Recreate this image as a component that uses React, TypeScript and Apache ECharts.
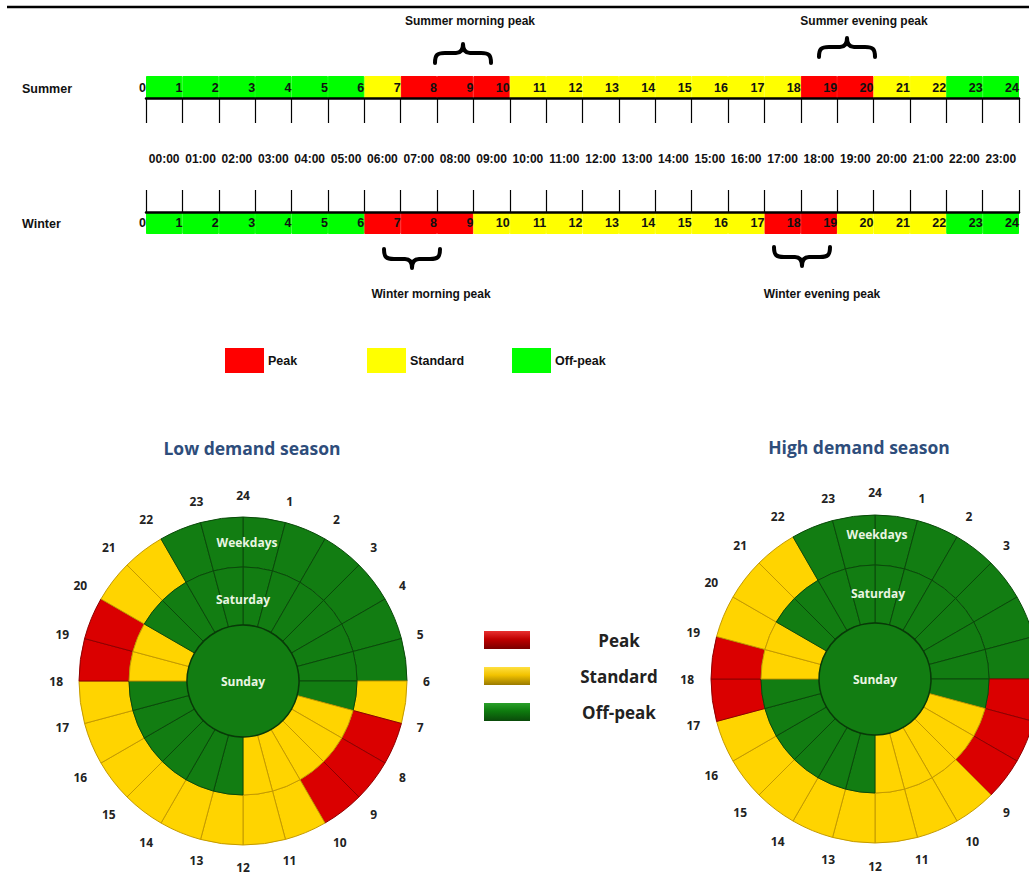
import React, { useEffect, useRef } from 'react';
import * as echarts from 'echarts';

const P = 'Peak';
const S = 'Standard';
const O = 'Off-peak';
const tariffs = [P, S, O];

const hourLabels = ['00:00', '01:00', '02:00', '03:00', '04:00', '05:00', '06:00', '07:00', '08:00', '09:00', '10:00', '11:00', '12:00', '13:00', '14:00', '15:00', '16:00', '17:00', '18:00', '19:00', '20:00', '21:00', '22:00', '23:00'];
const boundaryLabels = ['0', '1', '2', '3', '4', '5', '6', '7', '8', '9', '10', '11', '12', '13', '14', '15', '16', '17', '18', '19', '20', '21', '22', '23', '24'];
const ringHourLabels = ['24', '1', '2', '3', '4', '5', '6', '7', '8', '9', '10', '11', '12', '13', '14', '15', '16', '17', '18', '19', '20', '21', '22', '23'];
// hour labels of the high demand wheel that fall outside the picture's right edge
const highHiddenLabels = ['4', '5', '6', '7', '8'];

// hour-by-hour tariff (hour i covers i:00 - i+1:00)
const summerWeekday = [O, O, O, O, O, O, S, P, P, P, S, S, S, S, S, S, S, S, P, P, S, S, O, O];
const winterWeekday = [O, O, O, O, O, O, P, P, P, S, S, S, S, S, S, S, S, P, P, S, S, S, O, O];
const saturdaySchedule = [O, O, O, O, O, O, O, S, S, S, S, S, O, O, O, O, O, O, S, S, O, O, O, O];
const sundaySchedule = [O];

const flatColors: Record<string, string> = { Peak: '#FF0000', Standard: '#FFFF00', 'Off-peak': '#00FF00' };
const ringColors: Record<string, string> = { Peak: '#DA0000', Standard: '#FFD400', 'Off-peak': '#127D12' };
const ringBorders: Record<string, string> = { Peak: '#8E0000', Standard: '#C49A00', 'Off-peak': '#0A4A0A' };

const FN = '"Liberation Sans", Arial, sans-serif';
const FS = '"Open Sans", "Noto Sans", sans-serif';

const BRACE_UP = 'M2 21 C2 13 4 11 12 11 L23 11 C28 11 30 8 30 2 C30 8 32 11 37 11 L48 11 C56 11 58 13 58 21';
const BRACE_DOWN = 'M2 1 C2 9 4 11 12 11 L23 11 C28 11 30 14 30 20 C30 14 32 11 37 11 L48 11 C56 11 58 9 58 1';
echarts.graphic.registerShape('braceUp', echarts.graphic.extendPath(BRACE_UP, {}));
echarts.graphic.registerShape('braceDown', echarts.graphic.extendPath(BRACE_DOWN, {}));

const LOW_C = [243, 681];
const HIGH_C = [875, 679];
const R_IN = 56;
const R_MID = 114;
const R_OUT = 164;

function txt(text: string, x: number, y: number, size: number, opts: any = {}) {
  return {
    type: 'text',
    x,
    y,
    z: 100,
    silent: true,
    style: {
      text,
      fill: opts.color || '#111',
      fontSize: size,
      fontWeight: 'bold',
      fontFamily: opts.family || FN,
      align: opts.align || 'center',
      verticalAlign: 'middle',
      textAlign: opts.align || 'center',
      textVerticalAlign: 'middle',
    },
  };
}

function brace(kind: string, x: number, y: number) {
  return {
    type: kind,
    x,
    y,
    z: 100,
    silent: true,
    style: { fill: 'none', stroke: '#000', lineWidth: 4, lineCap: 'round', lineJoin: 'round' },
  };
}

function ringSeries(name: string, schedule: string[], center: number[], radius: number[]) {
  return {
    type: 'pie',
    name,
    center,
    radius,
    startAngle: 90,
    clockwise: true,
    silent: true,
    avoidLabelOverlap: false,
    label: { show: false },
    labelLine: { show: false },
    emphasis: { disabled: true },
    data: schedule.map((t, i) => ({
      name: `${hourLabels[i]} ${t}`,
      value: 1,
      itemStyle: { color: ringColors[t], borderColor: ringBorders[t], borderWidth: 1 },
    })),
  };
}

function centerSeries(center: number[]) {
  return {
    type: 'pie',
    name: 'Sunday',
    center,
    radius: [0, R_IN],
    silent: true,
    emphasis: { disabled: true },
    label: {
      show: true,
      position: 'center',
      formatter: 'Sunday',
      color: '#EAF5E2',
      fontSize: 12,
      fontWeight: 'bold',
      fontFamily: FS,
    },
    labelLine: { show: false },
    data: sundaySchedule.map((t) => ({
      name: 'Sunday',
      value: 1,
      itemStyle: { color: ringColors[t], borderColor: '#083A08', borderWidth: 1.5 },
    })),
  };
}

function barSeries(schedule: string[], xi: number, yi: number) {
  return tariffs.map((T) => ({
    type: 'bar',
    name: T,
    xAxisIndex: xi,
    yAxisIndex: yi,
    barGap: '-100%',
    barCategoryGap: '0%',
    silent: true,
    itemStyle: { color: flatColors[T], borderColor: flatColors[T], borderWidth: 1 },
    data: schedule.map((t) => (t === T ? 1 : '-')),
  }));
}

const catAxis = (gridIndex: number, position: string, tickLen: number, labelShow: boolean) => ({
  gridIndex,
  type: 'category',
  data: hourLabels,
  position,
  boundaryGap: true,
  z: 8,
  axisLine: { show: true, onZero: false, lineStyle: { color: '#000', width: 2.5 } },
  axisTick: { show: true, interval: 0, length: tickLen, lineStyle: { color: '#000', width: 1.2 } },
  axisLabel: {
    show: labelShow,
    interval: 0,
    margin: 47,
    color: '#111',
    fontSize: 12,
    fontWeight: 'bold',
    fontFamily: FN,
  },
  splitLine: { show: false },
});

const numAxis = (gridIndex: number, position: string, margin: number) => ({
  gridIndex,
  type: 'value',
  min: 0,
  max: 24,
  interval: 1,
  position,
  z: 10,
  axisLine: { show: false, onZero: false },
  axisTick: { show: false },
  splitLine: { show: false },
  axisLabel: {
    inside: true,
    align: 'right',
    margin,
    showMinLabel: true,
    showMaxLabel: true,
    formatter: (v: number) => boundaryLabels[v],
    color: '#111',
    fontSize: 12.5,
    fontWeight: 'bold',
    fontFamily: FN,
  },
});

const angleAx = (polarIndex: number, margin: number, hidden: string[]) => ({
  polarIndex,
  type: 'value',
  min: 0,
  max: 24,
  interval: 1,
  startAngle: 90,
  clockwise: true,
  axisLine: { show: false },
  axisTick: { show: false },
  splitLine: { show: false },
  splitArea: { show: false },
  axisLabel: {
    margin,
    formatter: (v: number) => {
      const s = ringHourLabels[v % 24];
      return hidden.indexOf(s) >= 0 ? '' : s;
    },
    color: '#222',
    fontSize: 12,
    fontWeight: 'bold',
    fontFamily: FS,
  },
});

const radiusAx = (polarIndex: number) => ({
  polarIndex,
  type: 'value',
  axisLine: { show: false },
  axisTick: { show: false },
  axisLabel: { show: false },
  splitLine: { show: false },
  splitArea: { show: false },
});

const grad = (a: string, b: string, c: string) =>
  new echarts.graphic.LinearGradient(0, 0, 0, 1, [
    { offset: 0, color: a },
    { offset: 0.45, color: b },
    { offset: 1, color: c },
  ]);

const topLegend = (name: string, left: number) => ({
  left,
  top: 348,
  padding: 0,
  icon: 'rect',
  itemWidth: 37,
  itemHeight: 23,
  selectedMode: false,
  data: [name],
  textStyle: { fontSize: 12.5, fontWeight: 'bold', fontFamily: FN, color: '#111' },
});

const option: any = {
  animation: false,
  backgroundColor: '#fff',
  grid: [
    { left: 146, right: 10, top: 76, height: 22, containLabel: false },
    { left: 146, right: 10, top: 212, height: 22, containLabel: false },
  ],
  xAxis: [
    catAxis(0, 'bottom', 25, false),
    numAxis(0, 'bottom', 4),
    catAxis(1, 'top', 22, true),
    numAxis(1, 'top', 4),
  ],
  yAxis: [
    { gridIndex: 0, type: 'value', min: 0, max: 1, show: false },
    { gridIndex: 1, type: 'value', min: 0, max: 1, show: false },
  ],
  polar: [
    { center: LOW_C, radius: R_OUT },
    { center: HIGH_C, radius: R_OUT },
  ],
  angleAxis: [angleAx(0, 16, []), angleAx(1, 17, highHiddenLabels)],
  radiusAxis: [radiusAx(0), radiusAx(1)],
  legend: [
    topLegend(P, 225),
    topLegend(S, 367),
    topLegend(O, 512),
    {
      orient: 'vertical',
      left: 484,
      top: 631,
      padding: 0,
      icon: 'rect',
      itemWidth: 46,
      itemHeight: 18,
      itemGap: 18,
      selectedMode: false,
      data: [
        { name: P, itemStyle: { color: grad('#E83030', '#C00000', '#7A0000'), borderWidth: 0 } },
        { name: S, itemStyle: { color: grad('#FFE040', '#F2C200', '#9A7A00'), borderWidth: 0 } },
        { name: O, itemStyle: { color: grad('#2AA02A', '#0E7A0E', '#0A4A0A'), borderWidth: 0 } },
      ],
      formatter: (name: string) => `{m|${name}}`,
      textStyle: {
        rich: {
          m: { width: 168, align: 'center', lineHeight: 18, fontSize: 17, fontWeight: 'bold', fontFamily: FS, color: '#222' },
        },
      },
    },
  ],
  graphic: [
    { type: 'line', silent: true, shape: { x1: 7, y1: 7, x2: 1029, y2: 7 }, style: { stroke: '#000', lineWidth: 2.5 } },
    txt('Summer', 22, 89, 12.5, { align: 'left' }),
    txt('Winter', 22, 224, 12.5, { align: 'left' }),
    txt('Summer morning peak', 470, 21, 12),
    txt('Summer evening peak', 864, 21, 12),
    txt('Winter morning peak', 431, 294, 12),
    txt('Winter evening peak', 822, 294, 12),
    brace('braceUp', 433, 42),
    brace('braceUp', 817, 36),
    brace('braceDown', 382, 248),
    brace('braceDown', 772, 246),
    txt('Low demand season', 252, 448, 17.5, { family: FS, color: '#2E4D7B' }),
    txt('High demand season', 859, 447, 17.5, { family: FS, color: '#2E4D7B' }),
    txt('Weekdays', LOW_C[0] + 4, LOW_C[1] - 139, 12, { family: FS, color: '#EAF5E2' }),
    txt('Saturday', LOW_C[0], LOW_C[1] - 82, 12, { family: FS, color: '#EAF5E2' }),
    txt('Weekdays', HIGH_C[0] + 2, HIGH_C[1] - 145, 12, { family: FS, color: '#EAF5E2' }),
    txt('Saturday', HIGH_C[0] + 3, HIGH_C[1] - 86, 12, { family: FS, color: '#EAF5E2' }),
  ],
  series: [
    ...barSeries(summerWeekday, 0, 0),
    ...barSeries(winterWeekday, 2, 1),
    ringSeries('Low demand weekdays', summerWeekday, LOW_C, [R_MID, R_OUT]),
    ringSeries('Low demand Saturday', saturdaySchedule, LOW_C, [R_IN, R_MID]),
    centerSeries(LOW_C),
    ringSeries('High demand weekdays', winterWeekday, HIGH_C, [R_MID, R_OUT]),
    ringSeries('High demand Saturday', saturdaySchedule, HIGH_C, [R_IN, R_MID]),
    centerSeries(HIGH_C),
  ],
};

export default function App() {
  const ref = useRef<HTMLDivElement>(null);
  useEffect(() => {
    if (!ref.current) return;
    const chart = echarts.init(ref.current, null, { renderer: 'svg', width: 1029, height: 877 });
    chart.setOption(option);
    return () => chart.dispose();
  }, []);
  return (
    <div
      ref={ref}
      style={{ position: 'absolute', left: 0, top: 0, width: 1029, height: 877, background: '#fff', overflow: 'hidden' }}
    />
  );
}
